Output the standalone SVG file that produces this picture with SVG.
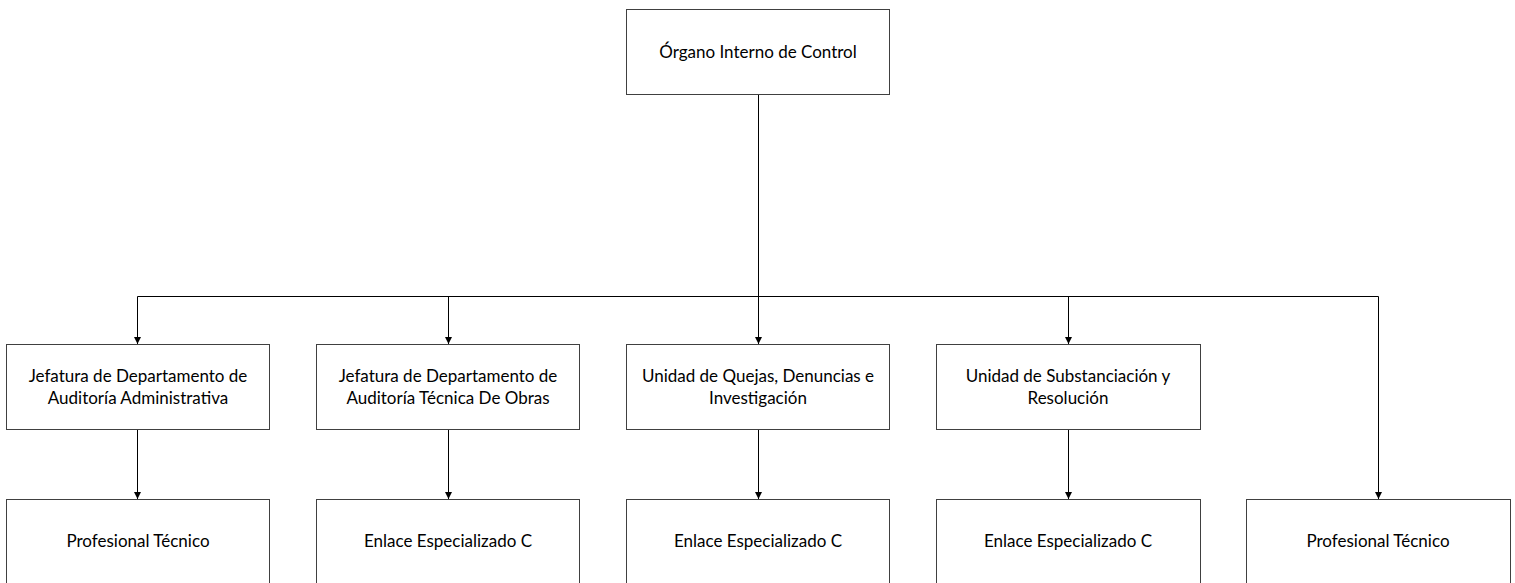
<svg xmlns="http://www.w3.org/2000/svg" width="1515" height="583" viewBox="0 0 1515 583">
<style>
.box{fill:#fff;stroke:#404040;stroke-width:1}
.t{font-family:Lato,"Open Sans","Liberation Sans",sans-serif;font-size:17px;fill:#000;text-anchor:middle}
.c{fill:none;stroke:#000;stroke-width:1}
</style>
<defs>
<marker id="ah" markerWidth="8" markerHeight="8" refX="7" refY="4" orient="auto" markerUnits="userSpaceOnUse">
<path d="M0,0.5 L7,4 L0,7.5 z" fill="#000"/>
</marker>
</defs>
<rect width="1515" height="583" fill="#fff"/>
<g id="connectors">
<path class="c" d="M758.5,94 V296.5"/>
<path class="c" d="M137.5,296.5 H1378.5"/>
<path class="c" d="M137.5,296.5 V344" marker-end="url(#ah)"/>
<path class="c" d="M448.5,296.5 V344" marker-end="url(#ah)"/>
<path class="c" d="M758.5,296.5 V344" marker-end="url(#ah)"/>
<path class="c" d="M1068.5,296.5 V344" marker-end="url(#ah)"/>
<path class="c" d="M1378.5,296.5 V499" marker-end="url(#ah)"/>
<path class="c" d="M137.5,429 V499" marker-end="url(#ah)"/>
<path class="c" d="M448.5,429 V499" marker-end="url(#ah)"/>
<path class="c" d="M758.5,429 V499" marker-end="url(#ah)"/>
<path class="c" d="M1068.5,429 V499" marker-end="url(#ah)"/>
</g>
<g id="oic"><rect class="box" x="626.5" y="9.5" width="263" height="85"/><text class="t" x="758" y="58">Órgano Interno de Control</text></g>
<g id="jdaa"><rect class="box" x="6.5" y="344.5" width="263" height="85"/><text class="t" x="138" y="382">Jefatura de Departamento de</text><text class="t" x="138" y="404">Auditoría Administrativa</text></g>
<g id="jdato"><rect class="box" x="316.5" y="344.5" width="263" height="85"/><text class="t" x="448" y="382">Jefatura de Departamento de</text><text class="t" x="448" y="404">Auditoría Técnica De Obras</text></g>
<g id="uqdi"><rect class="box" x="626.5" y="344.5" width="263" height="85"/><text class="t" x="758" y="382">Unidad de Quejas, Denuncias e</text><text class="t" x="758" y="404">Investigación</text></g>
<g id="usr"><rect class="box" x="936.5" y="344.5" width="264" height="85"/><text class="t" x="1068" y="382">Unidad de Substanciación y</text><text class="t" x="1068" y="404">Resolución</text></g>
<g id="pt1"><rect class="box" x="6.5" y="499.5" width="263" height="90"/><text class="t" x="138" y="547">Profesional Técnico</text></g>
<g id="eec1"><rect class="box" x="316.5" y="499.5" width="263" height="90"/><text class="t" x="448" y="547">Enlace Especializado C</text></g>
<g id="eec2"><rect class="box" x="626.5" y="499.5" width="263" height="90"/><text class="t" x="758" y="547">Enlace Especializado C</text></g>
<g id="eec3"><rect class="box" x="936.5" y="499.5" width="264" height="90"/><text class="t" x="1068" y="547">Enlace Especializado C</text></g>
<g id="pt2"><rect class="box" x="1246.5" y="499.5" width="264" height="90"/><text class="t" x="1378" y="547">Profesional Técnico</text></g>
</svg>
